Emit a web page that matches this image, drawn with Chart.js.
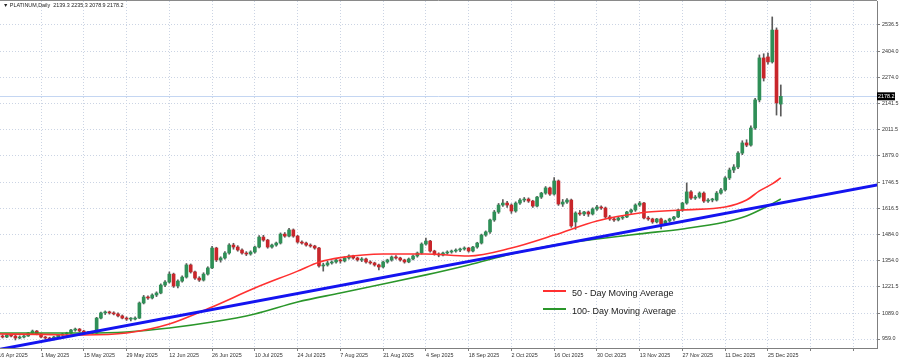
<!DOCTYPE html>
<html>
<head>
<meta charset="utf-8">
<title>PLATINUM, Daily</title>
<script src="https://cdn.jsdelivr.net/npm/chart.js@4.4.1/dist/chart.umd.min.js"></script>
<style>
  html, body { margin: 0; padding: 0; background: #fff; overflow: hidden; }
  canvas { display: block; }
</style>
</head>
<body>
<canvas id="grafico" width="900" height="361"></canvas>
<script>
// header text
const symbolTitle = 'PLATINUM,Daily';
const lastBarText = '2139.3 2235.3 2078.9 2178.2';
const lastPrice = 2178.2;

// x axis: one label every 10 daily bars
const xTickLabels = ['16 Apr 2025', '1 May 2025', '15 May 2025', '29 May 2025', '12 Jun 2025', '26 Jun 2025',
  '10 Jul 2025', '24 Jul 2025', '7 Aug 2025', '21 Aug 2025', '4 Sep 2025', '18 Sep 2025', '2 Oct 2025',
  '16 Oct 2025', '30 Oct 2025', '13 Nov 2025', '27 Nov 2025', '11 Dec 2025', '25 Dec 2025', '', ''];

// y axis ticks (price)
const yTickValues = [959.0, 1089.0, 1221.5, 1354.0, 1484.0, 1616.5, 1746.5, 1879.0, 2011.5, 2141.5, 2274.0, 2404.0, 2536.5];

// daily candles: [open, high, low, close], bar 0 = 16 Apr 2025
const ohlc = [
  [978, 985, 968, 974], [974, 980, 964, 969], [969, 984, 966, 979], [979, 983, 970, 974], [974, 977, 954, 964],
  [964, 975, 960, 969], [969, 978, 965, 974], [974, 992, 972, 989], [989, 1004, 985, 999], [999, 1002, 980, 984],
  [984, 988, 964, 969], [969, 972, 958, 964], [964, 968, 950, 959], [959, 973, 955, 969], [969, 983, 965, 979],
  [979, 988, 975, 984], [984, 993, 978, 989], [989, 1008, 985, 1004], [1004, 1014, 998, 1009], [1009, 1012, 995, 999],
  [999, 1003, 985, 989], [989, 998, 984, 994], [994, 998, 985, 989], [989, 1068, 987, 1064], [1064, 1094, 1060, 1090],
  [1090, 1100, 1082, 1095], [1095, 1099, 1084, 1090], [1090, 1096, 1080, 1085], [1085, 1090, 1070, 1075], [1075, 1080, 1060, 1064],
  [1064, 1070, 1052, 1059], [1059, 1066, 1050, 1059], [1059, 1070, 1055, 1064], [1064, 1145, 1062, 1140], [1140, 1178, 1135, 1170],
  [1170, 1176, 1158, 1165], [1165, 1186, 1160, 1180], [1180, 1196, 1172, 1190], [1190, 1236, 1186, 1230], [1230, 1252, 1222, 1245],
  [1245, 1296, 1240, 1285], [1285, 1290, 1218, 1225], [1225, 1256, 1215, 1250], [1250, 1276, 1244, 1270], [1270, 1338, 1265, 1331],
  [1331, 1336, 1290, 1296], [1296, 1300, 1258, 1265], [1265, 1272, 1248, 1255], [1255, 1292, 1250, 1285], [1285, 1322, 1280, 1316],
  [1316, 1425, 1312, 1416], [1416, 1420, 1348, 1356], [1356, 1372, 1345, 1366], [1366, 1398, 1360, 1391], [1391, 1438, 1385, 1431],
  [1431, 1440, 1410, 1421], [1421, 1428, 1400, 1406], [1406, 1412, 1385, 1391], [1391, 1398, 1378, 1386], [1386, 1402, 1380, 1396],
  [1396, 1426, 1390, 1421], [1421, 1478, 1416, 1471], [1471, 1480, 1450, 1456], [1456, 1460, 1415, 1421], [1421, 1436, 1415, 1431],
  [1431, 1446, 1425, 1441], [1441, 1492, 1436, 1486], [1486, 1494, 1470, 1476], [1476, 1515, 1472, 1507], [1507, 1512, 1470, 1476],
  [1476, 1480, 1440, 1446], [1446, 1452, 1435, 1441], [1441, 1446, 1425, 1431], [1431, 1437, 1420, 1426], [1426, 1430, 1410, 1416],
  [1416, 1420, 1320, 1326], [1326, 1340, 1300, 1331], [1331, 1350, 1325, 1341], [1341, 1352, 1335, 1346], [1346, 1362, 1340, 1356],
  [1356, 1360, 1340, 1351], [1351, 1372, 1346, 1366], [1366, 1382, 1360, 1376], [1376, 1380, 1360, 1366], [1366, 1370, 1350, 1356],
  [1356, 1368, 1348, 1361], [1361, 1365, 1340, 1346], [1346, 1352, 1335, 1341], [1341, 1345, 1325, 1331], [1331, 1336, 1306, 1321],
  [1321, 1350, 1316, 1346], [1346, 1360, 1340, 1356], [1356, 1376, 1350, 1371], [1371, 1378, 1360, 1366], [1366, 1370, 1350, 1356],
  [1356, 1360, 1340, 1346], [1346, 1366, 1342, 1361], [1361, 1380, 1356, 1376], [1376, 1396, 1370, 1391], [1391, 1442, 1386, 1436],
  [1436, 1466, 1430, 1451], [1451, 1455, 1395, 1401], [1401, 1405, 1380, 1386], [1386, 1392, 1372, 1381], [1381, 1396, 1376, 1391],
  [1391, 1402, 1385, 1396], [1396, 1406, 1390, 1401], [1401, 1412, 1395, 1406], [1406, 1416, 1398, 1411], [1411, 1422, 1405, 1416],
  [1416, 1420, 1395, 1401], [1401, 1424, 1396, 1421], [1421, 1445, 1415, 1441], [1441, 1486, 1436, 1481], [1481, 1502, 1475, 1497],
  [1497, 1562, 1490, 1557], [1557, 1605, 1550, 1597], [1597, 1640, 1590, 1632], [1632, 1660, 1625, 1642], [1642, 1650, 1620, 1632],
  [1632, 1638, 1590, 1602], [1602, 1648, 1596, 1642], [1642, 1665, 1635, 1657], [1657, 1670, 1648, 1662], [1662, 1668, 1645, 1652],
  [1652, 1656, 1620, 1627], [1627, 1676, 1622, 1672], [1672, 1696, 1665, 1692], [1692, 1725, 1686, 1718], [1718, 1722, 1680, 1687],
  [1687, 1770, 1682, 1753], [1753, 1758, 1630, 1637], [1637, 1660, 1625, 1647], [1647, 1665, 1640, 1657], [1657, 1662, 1520, 1527],
  [1547, 1598, 1510, 1592], [1592, 1605, 1580, 1587], [1587, 1600, 1578, 1597], [1597, 1602, 1575, 1587], [1587, 1618, 1582, 1612],
  [1612, 1630, 1605, 1622], [1622, 1628, 1610, 1617], [1617, 1622, 1565, 1572], [1572, 1580, 1555, 1562], [1562, 1570, 1550, 1557],
  [1557, 1572, 1552, 1567], [1567, 1578, 1560, 1572], [1572, 1600, 1568, 1597], [1597, 1612, 1590, 1607], [1607, 1638, 1600, 1632],
  [1632, 1650, 1625, 1642], [1642, 1646, 1562, 1567], [1567, 1575, 1555, 1562], [1562, 1566, 1540, 1547], [1547, 1565, 1542, 1562],
  [1562, 1566, 1512, 1537], [1537, 1556, 1530, 1552], [1552, 1566, 1546, 1562], [1562, 1575, 1555, 1572], [1572, 1612, 1568, 1607],
  [1607, 1646, 1600, 1642], [1642, 1743, 1636, 1698], [1698, 1705, 1660, 1667], [1667, 1680, 1660, 1672], [1672, 1698, 1666, 1692],
  [1692, 1698, 1645, 1652], [1652, 1664, 1645, 1657], [1657, 1666, 1648, 1657], [1657, 1700, 1652, 1692], [1692, 1716, 1686, 1708],
  [1708, 1775, 1702, 1768], [1768, 1818, 1760, 1808], [1808, 1835, 1795, 1823], [1823, 1900, 1815, 1893], [1893, 1955, 1885, 1944],
  [1944, 1960, 1925, 1933], [1933, 2030, 1928, 2019], [2019, 2168, 2012, 2160], [2160, 2386, 2150, 2371], [2371, 2392, 2255, 2270],
  [2376, 2395, 2340, 2351], [2351, 2577, 2345, 2511], [2511, 2522, 2084, 2145], [2139.3, 2235.3, 2078.9, 2178.2]
];

// moving averages: [bar, price]
const ma50 = [[0, 984], [10, 982], [20, 979], [30, 989], [40, 1034], [50, 1120], [60, 1215], [70, 1300], [75, 1345],
  [80, 1368], [90, 1386], [100, 1386], [110, 1376], [120, 1416], [130, 1481], [140, 1552], [150, 1592], [160, 1607],
  [170, 1622], [175, 1657], [178, 1703], [181, 1738], [183, 1768]];
const ma100 = [[0, 989], [10, 989], [20, 989], [30, 994], [40, 1014], [50, 1044], [60, 1085], [70, 1145], [80, 1190],
  [90, 1235], [100, 1281], [110, 1331], [120, 1386], [130, 1431], [140, 1461], [150, 1487], [160, 1512], [170, 1547],
  [175, 1577], [180, 1627], [183, 1662]];

// support trend line: [bar, price]
const trendLine = [[0, 906], [206, 1735]];

const legendItems = [
  { text: '50 - Day Moving Average', color: '#ff3030' },
  { text: '100- Day Moving Average', color: '#2a962a' }
];

const upColor = '#2f8f57';
const downColor = '#c8262b';
const gridColor = '#cbd4e4';
const smallFont = { family: 'Liberation Sans, Arial, sans-serif', size: 5.4 };

const overlay = {
  id: 'overlay',
  beforeDatasetsDraw(chart) {
    const ctx = chart.ctx, area = chart.chartArea;
    const y = chart.scales.y.getPixelForValue(lastPrice);
    ctx.save();
    ctx.strokeStyle = '#c4d6f2';
    ctx.lineWidth = 1;
    ctx.beginPath();
    ctx.moveTo(area.left, Math.round(y) + 0.5);
    ctx.lineTo(area.right, Math.round(y) + 0.5);
    ctx.stroke();
    ctx.restore();
  },
  afterDraw(chart) {
    const ctx = chart.ctx, area = chart.chartArea;
    ctx.save();
    // top frame line
    ctx.strokeStyle = '#8a8a8a';
    ctx.lineWidth = 1;
    ctx.beginPath();
    ctx.moveTo(0, 0.5);
    ctx.lineTo(area.right, 0.5);
    ctx.stroke();

    // header
    ctx.fillStyle = '#222';
    ctx.font = '5.4px Liberation Sans, Arial, sans-serif';
    ctx.textBaseline = 'middle';
    ctx.fillText('\u25BC ' + symbolTitle + '  ' + lastBarText, 3, 6);

    // last price box
    const y = chart.scales.y.getPixelForValue(lastPrice);
    ctx.fillStyle = '#000';
    ctx.fillRect(area.right, y - 4, 18, 8);
    ctx.fillStyle = '#fff';
    ctx.fillText(lastPrice.toFixed(1), area.right + 1, y + 0.5);

    // legend
    ctx.font = '9px Liberation Sans, Arial, sans-serif';
    legendItems.forEach((item, k) => {
      const ly = 291 + k * 18;
      ctx.strokeStyle = item.color;
      ctx.lineWidth = 2;
      ctx.beginPath();
      ctx.moveTo(543, ly);
      ctx.lineTo(566, ly);
      ctx.stroke();
      ctx.fillStyle = '#1a1a1a';
      ctx.fillText(item.text, 572, ly + 3);
    });
    ctx.restore();
  }
};

const wickData = ohlc.map((c, i) => ({ x: i, y: [c[2], c[1]] }));
const bodyData = ohlc.map((c, i) => ({ x: i, y: [c[0], c[3]] }));

new Chart(document.getElementById('grafico'), {
  type: 'bar',
  data: {
    datasets: [
      {
        type: 'line', label: 'trend', order: 1, clip: 0,
        data: trendLine.map(p => ({ x: p[0], y: p[1] })),
        borderColor: '#1414f0', borderWidth: 3, pointRadius: 0
      },
      {
        type: 'line', label: '50 MA', order: 2,
        data: ma50.map(p => ({ x: p[0], y: p[1] })),
        borderColor: '#ff3030', borderWidth: 1.6, pointRadius: 0, cubicInterpolationMode: 'monotone'
      },
      {
        type: 'line', label: '100 MA', order: 2,
        data: ma100.map(p => ({ x: p[0], y: p[1] })),
        borderColor: '#2a962a', borderWidth: 1.6, pointRadius: 0, cubicInterpolationMode: 'monotone'
      },
      {
        label: 'wick', order: 4, grouped: false,
        data: wickData, barThickness: 1, backgroundColor: '#5a5a5a'
      },
      {
        label: 'body', order: 3, grouped: false, minBarLength: 1,
        data: bodyData, barThickness: 3,
        backgroundColor: (c) => {
          const k = ohlc[c.dataIndex];
          return k && k[3] >= k[0] ? upColor : downColor;
        }
      }
    ]
  },
  options: {
    responsive: false,
    animation: false,
    devicePixelRatio: 1,
    layout: { padding: { top: 1, left: 0, right: 0, bottom: 0 } },
    plugins: { legend: { display: false }, tooltip: { enabled: false } },
    scales: {
      x: {
        type: 'linear', offset: false, min: 0.4, max: 205.5, bounds: 'data',
        grid: { color: gridColor, tickLength: 3, offset: false, tickColor: '#7f7f7f' },
        border: { display: true, color: '#7f7f7f', dash: [1, 2] },
        ticks: {
          font: smallFont, color: '#333', align: 'start', maxRotation: 0, autoSkip: false, padding: 1,
          callback: (v) => xTickLabels[Math.round(v / 10)] || ''
        },
        afterBuildTicks: (s) => { s.ticks = xTickLabels.map((t, k) => ({ value: k * 10 })); },
        afterFit: (s) => { s.height = 13; s.paddingLeft = 0; s.paddingRight = 0; }
      },
      y: {
        position: 'right', min: 913.8, max: 2657, bounds: 'data',
        grid: { color: gridColor, tickLength: 3, tickColor: '#7f7f7f' },
        border: { display: true, color: '#7f7f7f', dash: [1, 2] },
        ticks: { font: smallFont, color: '#333', padding: 2, callback: (v) => Number(v).toFixed(1) },
        afterBuildTicks: (s) => { s.ticks = yTickValues.map(v => ({ value: v })); },
        afterFit: (s) => { s.width = 23; s.paddingTop = 0; s.paddingBottom = 0; }
      }
    }
  },
  plugins: [overlay]
});
</script>
</body>
</html>
